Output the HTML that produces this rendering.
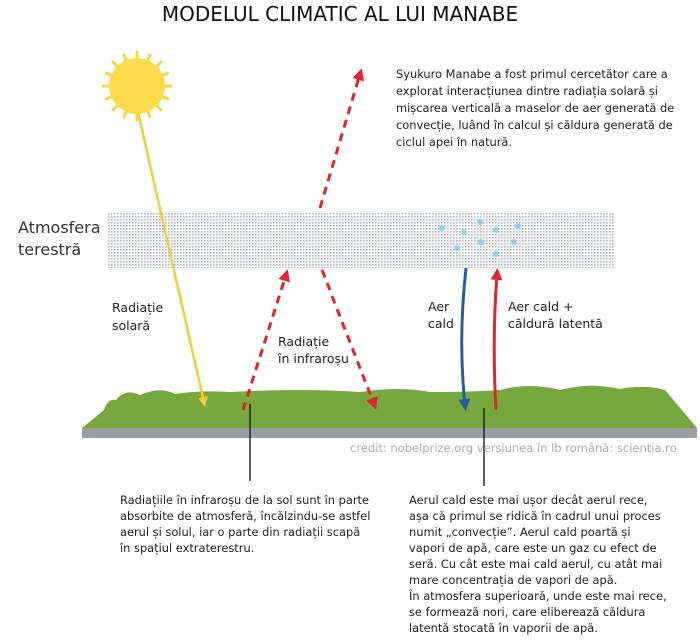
<!DOCTYPE html>
<html><head><meta charset="utf-8"><style>
html,body{margin:0;padding:0;background:#fff;}
svg text{font-family:"DejaVu Sans","Liberation Sans",sans-serif;fill:#222;}
</style></head><body>
<svg width="700" height="639" viewBox="0 0 700 639" xmlns="http://www.w3.org/2000/svg">
<defs>
<pattern id="dots" width="3" height="3" patternUnits="userSpaceOnUse"><rect x="0" y="0" width="1.6" height="1.6" fill="#aeb6c0"/></pattern>
<marker id="ar" viewBox="0 0 10 10" refX="5" refY="5" markerWidth="4" markerHeight="4" orient="auto"><path d="M0,0 L10,5 L0,10 z" fill="#e0262b"/></marker>
<marker id="ay" viewBox="0 0 10 10" refX="5" refY="5" markerWidth="4" markerHeight="4" orient="auto"><path d="M0,0 L10,5 L0,10 z" fill="#f3cc3a"/></marker>
<marker id="ab" viewBox="0 0 10 10" refX="5" refY="5" markerWidth="4" markerHeight="4" orient="auto"><path d="M0,0 L10,5 L0,10 z" fill="#1f5fa0"/></marker>
</defs>
<text x="340" y="21" font-size="20" text-anchor="middle" style="fill:#111">MODELUL CLIMATIC AL LUI MANABE</text>
<g stroke="#f8d548" stroke-width="3" stroke-linecap="round">
<line x1="137" y1="52" x2="137" y2="120"/><line x1="103" y1="86" x2="171" y2="86"/>
<line x1="113" y1="62" x2="161" y2="110"/><line x1="161" y1="62" x2="113" y2="110"/>
<line x1="124" y1="55" x2="150" y2="117"/><line x1="150" y1="55" x2="124" y2="117"/>
<line x1="106" y1="73" x2="168" y2="99"/><line x1="106" y1="99" x2="168" y2="73"/>
</g>
<circle cx="137" cy="86" r="28" fill="#fcdc4a"/>
<rect x="108" y="212" width="506" height="56" fill="url(#dots)"/>
<g fill="#8fd2f0">
<circle cx="442" cy="228" r="3"/><circle cx="464" cy="232" r="3"/><circle cx="480" cy="222" r="3"/><circle cx="496" cy="230" r="3"/><circle cx="518" cy="226" r="3"/>
<circle cx="457" cy="248" r="3"/><circle cx="481" cy="242" r="3"/><circle cx="514" cy="242" r="3"/><circle cx="496" cy="254" r="3"/>
</g>
<path d="M82,428 L104,410 Q108,398 116,400 Q125,388 140,395 Q160,386 175,394 Q200,390 230,392 Q300,388 360,392 Q400,386 430,392 Q470,392 500,390 Q530,382 560,390 Q590,382 620,389 Q645,384 665,390 L697,428 Z" fill="#76a83e"/>
<rect x="82" y="428" width="615" height="10" fill="#9a9ea3"/>
<line x1="138" y1="112" x2="204" y2="402" stroke="#f3cc3a" stroke-width="2.5" marker-end="url(#ay)"/>
<g stroke="#e0262b" stroke-width="3" stroke-dasharray="8,6" fill="none">
<line x1="320" y1="208" x2="360" y2="74" marker-end="url(#ar)"/>
<line x1="243" y1="410" x2="286" y2="275" marker-end="url(#ar)"/>
<line x1="332" y1="296" x2="374" y2="404" marker-end="url(#ar)"/>
<line x1="322" y1="270" x2="330" y2="290"/>
</g>
<path d="M466,268 Q458,340 465,405" stroke="#1f5fa0" stroke-width="3" fill="none" marker-end="url(#ab)"/>
<path d="M496,410 Q492,340 497,274" stroke="#e0262b" stroke-width="3" fill="none" marker-end="url(#ar)"/>
<line x1="250" y1="404" x2="250" y2="481" stroke="#111" stroke-width="1.3"/>
<line x1="484" y1="408" x2="484" y2="486" stroke="#111" stroke-width="1.3"/>
<text font-size="16" style="fill:#333"><tspan x="18" y="233">Atmosfera</tspan><tspan x="18" y="255">terestră</tspan></text>
<text font-size="12.5"><tspan x="112" y="312">Radiație</tspan><tspan x="112" y="330">solară</tspan></text>
<text font-size="12.5"><tspan x="278" y="346">Radiație</tspan><tspan x="278" y="363">în infraroșu</tspan></text>
<text font-size="12.5"><tspan x="428" y="311">Aer</tspan><tspan x="428" y="328">cald</tspan></text>
<text font-size="12.5"><tspan x="508" y="311">Aer cald +</tspan><tspan x="508" y="328">căldură latentă</tspan></text>
<text font-size="11.5" style="fill:#aaa" x="350" y="452">credit: nobelprize.org  versiunea în lb română: scientia.ro</text>
<text font-size="11.4"><tspan x="396" y="78">Syukuro Manabe a fost primul cercetător care a</tspan><tspan x="396" y="95">explorat interacțiunea dintre radiația solară și</tspan><tspan x="396" y="112">mișcarea verticală a maselor de aer generată de</tspan><tspan x="396" y="129">convecție, luând în calcul și căldura generată de</tspan><tspan x="396" y="146">ciclul apei în natură.</tspan></text>
<text font-size="11.4"><tspan x="120" y="504">Radiațiile în infraroșu de la sol sunt în parte</tspan><tspan x="120" y="520">absorbite de atmosferă, încălzindu-se astfel</tspan><tspan x="120" y="536">aerul și solul, iar o parte din radiații scapă</tspan><tspan x="120" y="552">în spațiul extraterestru.</tspan></text>
<text font-size="11.4"><tspan x="409" y="504">Aerul cald este mai ușor decât aerul rece,</tspan><tspan x="409" y="520">așa că primul se ridică în cadrul unui proces</tspan><tspan x="409" y="536">numit „convecție”. Aerul cald poartă și</tspan><tspan x="409" y="552">vapori de apă, care este un gaz cu efect de</tspan><tspan x="409" y="568">seră. Cu cât este mai cald aerul, cu atât mai</tspan><tspan x="409" y="584">mare concentrația de vapori de apă.</tspan><tspan x="409" y="600">În atmosfera superioară, unde este mai rece,</tspan><tspan x="409" y="616">se formează nori, care eliberează căldura</tspan><tspan x="409" y="632">latentă stocată în vaporii de apă.</tspan></text>
</svg>
</body></html>
